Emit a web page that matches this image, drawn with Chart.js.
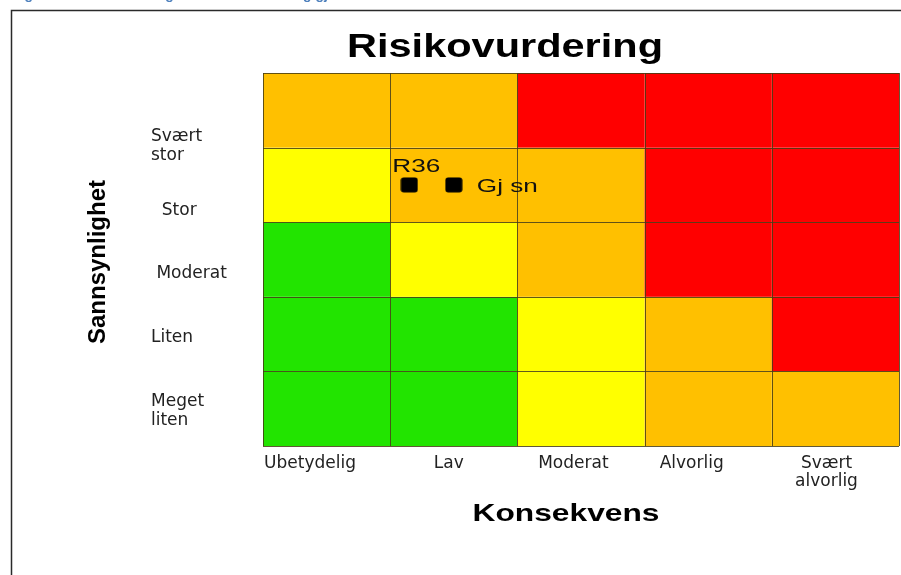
<!DOCTYPE html>
<html>
<head>
<meta charset="utf-8">
<script src="https://cdn.jsdelivr.net/npm/chart.js@4.4.1/dist/chart.umd.min.js"></script>
<style>
  html, body { margin: 0; padding: 0; background: #fff; }
  #wrap { width: 901px; height: 575px; position: relative; }
</style>
</head>
<body>
<div id="wrap"><canvas id="risk"></canvas></div>
<script>
// consequence categories (x) and likelihood categories (y, bottom -> top)
const consequences = ['Ubetydelig', 'Lav', 'Moderat', 'Alvorlig', ['Svært', 'alvorlig']];
const likelihoods = [['Meget', 'liten'], 'Liten', ' Moderat', '  Stor', ['Svært', 'stor']];

// risk level per cell, rows bottom -> top, columns left -> right
// G = green, Y = yellow, O = orange, R = red
const riskRows = [
  ['G', 'G', 'Y', 'O', 'O'],
  ['G', 'G', 'Y', 'O', 'R'],
  ['G', 'Y', 'O', 'R', 'R'],
  ['Y', 'O', 'O', 'R', 'R'],
  ['O', 'O', 'R', 'R', 'R']
];

// where the tick labels sit on each axis (in axis units)
const xTickPos = [0.87, 1.96, 2.94, 3.87, 4.93];
const yTickPos = [0.97, 1.96, 2.81, 3.65, 4.52];

// plotted risks
const pointNames = ['R36', 'Gj sn'];
const pointX = [1.65, 2.0];
const pointY = [4, 4];

const levelColors = { G: '#22e400', Y: '#ffff00', O: '#ffc000', R: '#ff0000' };

function makeMarker() {
  const c = document.createElement('canvas');
  c.width = 18; c.height = 16;
  const g = c.getContext('2d');
  g.fillStyle = '#000';
  g.beginPath();
  g.roundRect(0.5, 0.5, 17, 15, 3);
  g.fill();
  return c;
}

// draws text squeezed/stretched horizontally to a given width
function stretchText(ctx, text, x, y, font, width, align) {
  ctx.save();
  ctx.font = font;
  const w = ctx.measureText(text).width;
  const sx = width / w;
  ctx.translate(x, y);
  ctx.scale(sx, 1);
  ctx.textAlign = align || 'left';
  ctx.textBaseline = 'alphabetic';
  ctx.fillText(text, 0, 0);
  ctx.restore();
}

const matrixPlugin = {
  id: 'matrix',
  beforeDatasetsDraw(chart) {
    const { ctx, scales: { x, y } } = chart;
    ctx.save();
    riskRows.forEach((row, r) => {
      row.forEach((lvl, c) => {
        const x0 = x.getPixelForValue(c + 0.5), x1 = x.getPixelForValue(c + 1.5);
        const y0 = y.getPixelForValue(r + 1.5), y1 = y.getPixelForValue(r + 0.5);
        ctx.fillStyle = levelColors[lvl];
        ctx.fillRect(x0, y0, x1 - x0, y1 - y0);
      });
    });
    ctx.strokeStyle = 'rgba(70,60,20,0.85)';
    ctx.lineWidth = 1;
    ctx.beginPath();
    for (let i = 0; i <= 5; i++) {
      const px = Math.round(x.getPixelForValue(i + 0.5)) + 0.5;
      ctx.moveTo(px, y.getPixelForValue(5.5));
      ctx.lineTo(px, y.getPixelForValue(0.5));
      const py = Math.round(y.getPixelForValue(i + 0.5)) + 0.5;
      ctx.moveTo(x.getPixelForValue(0.5), py);
      ctx.lineTo(x.getPixelForValue(5.5), py);
    }
    ctx.stroke();
    ctx.restore();
  },
  afterDatasetsDraw(chart) {
    const { ctx } = chart;
    const pts = chart.getDatasetMeta(0).data;
    ctx.save();
    ctx.fillStyle = '#111';
    const font = '19px "Liberation Sans", Arial, sans-serif';
    // R36 above-left, Gj sn to the right
    stretchText(ctx, pointNames[0], pts[0].x - 17, pts[0].y - 13, font, 48);
    stretchText(ctx, pointNames[1], pts[1].x + 23, pts[1].y + 7, font, 61);
    ctx.restore();
  },
  afterDraw(chart) {
    const { ctx } = chart;
    ctx.save();
    // frame around the figure
    ctx.strokeStyle = '#2a2a2a';
    ctx.lineWidth = 1.5;
    ctx.beginPath();
    ctx.moveTo(11.5, 575);
    ctx.lineTo(11.5, 10.5);
    ctx.lineTo(901, 10.5);
    ctx.stroke();
    // figure caption (cut off above)
    ctx.fillStyle = '#4f81bd';
    ctx.font = 'bold 14px "Liberation Sans", Arial, sans-serif';
    ctx.textBaseline = 'alphabetic';
    ctx.fillText('Figur 4: Risikovurdering for hendelse R36 og gjennomsnitt', 12, -1);
    // titles
    ctx.fillStyle = '#000';
    stretchText(ctx, 'Risikovurdering', 505, 57, 'bold 33px "Liberation Sans", Arial, sans-serif', 316, 'center');
    stretchText(ctx, 'Konsekvens', 566, 521, 'bold 24px "Liberation Sans", Arial, sans-serif', 187, 'center');
    ctx.translate(105, 262);
    ctx.rotate(-Math.PI / 2);
    ctx.font = 'bold 24px "Liberation Sans", Arial, sans-serif';
    ctx.textAlign = 'center';
    ctx.fillText('Sannsynlighet', 0, 0);
    ctx.restore();
  }
};

const tickFont = { family: '"DejaVu Sans", sans-serif', size: 17, lineHeight: 1.1 };

new Chart(document.getElementById('risk'), {
  type: 'scatter',
  data: {
    datasets: [{
      label: 'Risiko',
      data: pointX.map((v, i) => ({ x: v, y: pointY[i] })),
      pointStyle: makeMarker(),
      backgroundColor: '#000',
      borderColor: '#000'
    }]
  },
  options: {
    responsive: true,
    maintainAspectRatio: false,
    animation: false,
    layout: { autoPadding: false, padding: { left: 151, top: 73, right: 2, bottom: 0 } },
    plugins: {
      legend: { display: false },
      tooltip: { enabled: false }
    },
    scales: {
      x: {
        type: 'linear',
        min: 0.5,
        max: 5.5,
        grid: { display: false },
        border: { display: false },
        afterBuildTicks: s => { s.ticks = xTickPos.map(v => ({ value: v })); },
        afterFit: s => { s.height = 129; s.paddingLeft = 0; s.paddingRight = 0; },
        ticks: {
          autoSkip: false,
          maxRotation: 0,
          padding: 0,
          color: '#222',
          font: tickFont,
          callback: (v, i) => consequences[i]
        }
      },
      y: {
        type: 'linear',
        min: 0.5,
        max: 5.5,
        grid: { display: false },
        border: { display: false },
        afterBuildTicks: s => { s.ticks = yTickPos.map(v => ({ value: v })); },
        afterFit: s => { s.width = 112; s.paddingTop = 0; s.paddingBottom = 0; },
        ticks: {
          autoSkip: false,
          crossAlign: 'far',
          color: '#222',
          font: tickFont,
          callback: (v, i) => likelihoods[i]
        }
      }
    }
  },
  plugins: [matrixPlugin]
});
</script>
</body>
</html>
